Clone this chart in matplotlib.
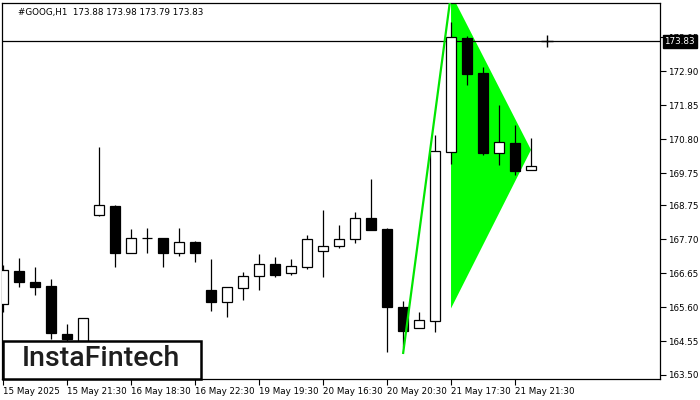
import matplotlib
matplotlib.use("Agg")
import matplotlib.pyplot as plt
from matplotlib.patches import Rectangle, Polygon

# ---------------- data ----------------
symbol_header = "#GOOG,H1  173.88 173.98 173.79 173.83"
opens  = [165.70, 166.72, 166.38, 166.26, 164.77, 164.55, 168.46, 168.73, 167.27, 167.73,
          167.73, 167.27, 167.61, 166.13, 165.75, 166.18, 166.58, 166.93, 166.65, 166.83,
          167.33, 167.48, 167.70, 168.35, 168.02, 165.61, 164.95, 165.18, 170.41, 173.93,
          172.85, 170.36, 170.67, 169.84]
highs  = [166.91, 167.13, 166.85, 166.47, 165.09, 165.26, 170.55, 168.75, 168.01, 168.04,
          167.73, 168.04, 167.65, 167.09, 166.21, 166.69, 167.25, 167.15, 167.09, 167.83,
          168.61, 168.14, 168.55, 169.57, 168.05, 165.79, 165.45, 170.93, 174.44, 173.99,
          173.03, 171.86, 171.24, 170.84]
lows   = [165.45, 166.23, 165.98, 164.60, 164.40, 164.40, 168.42, 166.83, 167.27, 167.28,
          166.85, 167.17, 167.01, 165.49, 165.30, 165.82, 166.13, 166.54, 166.60, 166.79,
          166.52, 167.42, 167.60, 168.00, 164.22, 164.38, 164.95, 164.84, 170.03, 172.48,
          170.31, 170.01, 169.70, 169.84]
closes = [166.75, 166.39, 166.23, 164.79, 164.60, 165.26, 168.75, 167.27, 167.73, 167.74,
          167.29, 167.61, 167.29, 165.77, 166.21, 166.57, 166.93, 166.60, 166.86, 167.70,
          167.48, 167.70, 168.35, 168.00, 165.61, 164.87, 165.19, 170.43, 173.95, 172.83,
          170.37, 170.70, 169.82, 169.96]

x_tick_bars = [0, 4, 8, 12, 16, 20, 24, 28, 32]
x_tick_labels = ["15 May 2025", "15 May 21:30", "16 May 18:30", "16 May 22:30",
                 "19 May 19:30", "20 May 16:30", "20 May 20:30", "21 May 17:30",
                 "21 May 21:30"]
y_ticks = [163.50, 164.55, 165.60, 166.65, 167.70, 168.75, 169.75, 170.80, 171.85, 172.90, 173.95]

current_price = 173.83
cursor_bar = 34

# pennant (bar index, price)
flagpole_bars = [25, 28]
flagpole_prices = [164.15, 175.31]
pennant_bars = [28, 28, 33]
pennant_prices = [175.31, 165.56, 170.47]

# ---------------- figure ----------------
plt.rcParams['font.family'] = ['DejaVu Sans']
fig = plt.figure(figsize=(7, 4), dpi=100)
fig.patch.set_facecolor('white')
ax = fig.add_axes([2/700, 21/400, 658/700, 376/400])
ax.set_xlim(-0.0625, 41.06)
ax.set_ylim(163.376, 175.017)

for sp in ax.spines.values():
    sp.set_linewidth(0.9)
    sp.set_color('black')

# pennant body (background)
ax.add_patch(Polygon(list(zip(pennant_bars, pennant_prices)), closed=True,
                     facecolor='#00FF00', edgecolor='none', zorder=1))

# price line
ax.axhline(current_price, color='black', lw=0.9, zorder=1.5)

# candles
n = len(opens)
xs = list(range(n))
ax.vlines(xs, lows, highs, color='black', lw=0.9, zorder=2)
bottoms = [min(o, c) for o, c in zip(opens, closes)]
heights = [abs(c - o) for o, c in zip(opens, closes)]
colors = ['white' if c >= o else 'black' for o, c in zip(opens, closes)]
ax.bar(xs, heights, bottom=bottoms, width=0.62, color=colors,
       edgecolor='black', linewidth=0.9, zorder=3)

# flagpole line
ax.plot(flagpole_bars, flagpole_prices, color='#00E600', lw=1.6, zorder=4,
        solid_capstyle='butt')

# cursor cross
ax.plot([cursor_bar], [current_price], marker='+', color='black', ms=8, mew=1.0, zorder=5)

# axes ticks
ax.yaxis.tick_right()
ax.set_yticks(y_ticks)
ax.set_yticklabels([f"{v:.2f}" for v in y_ticks])
ax.tick_params(axis='y', direction='out', length=4, width=0.8, pad=1.5,
               labelsize=6.3, colors='black')
ax.set_xticks(x_tick_bars)
ax.set_xticklabels(x_tick_labels)
ax.tick_params(axis='x', direction='out', length=4, width=0.8, pad=1.5,
               labelsize=6.3, colors='black')
for lab in ax.get_xticklabels():
    lab.set_horizontalalignment('left')

# current price label box
ax.annotate(f"{current_price:.2f}", xy=(1, current_price), xycoords=('axes fraction', 'data'),
            xytext=(3.2, 0), textcoords='offset points', ha='left', va='center',
            color='white', fontsize=6.3, zorder=10, annotation_clip=False,
            bbox=dict(boxstyle='square,pad=0.2', fc='black', ec='black'))

# header
fig.text(18/700, 1 - 13/400, symbol_header, fontsize=6.3, color='black',
         ha='left', va='center')

# logo box
logo = Rectangle((3/700, 21/400), 198/700, 38/400, transform=fig.transFigure,
                 facecolor='white', edgecolor='black', linewidth=1.8, zorder=20)
fig.patches.append(logo)
fig.text(101/700, 1 - 359/400, "InstaFintech", fontsize=20.5, color='#1e1e1e',
         family=['Roboto', 'DejaVu Sans'], fontweight='medium',
         ha='center', va='center', zorder=21)

fig.savefig("out.png", dpi=100)
